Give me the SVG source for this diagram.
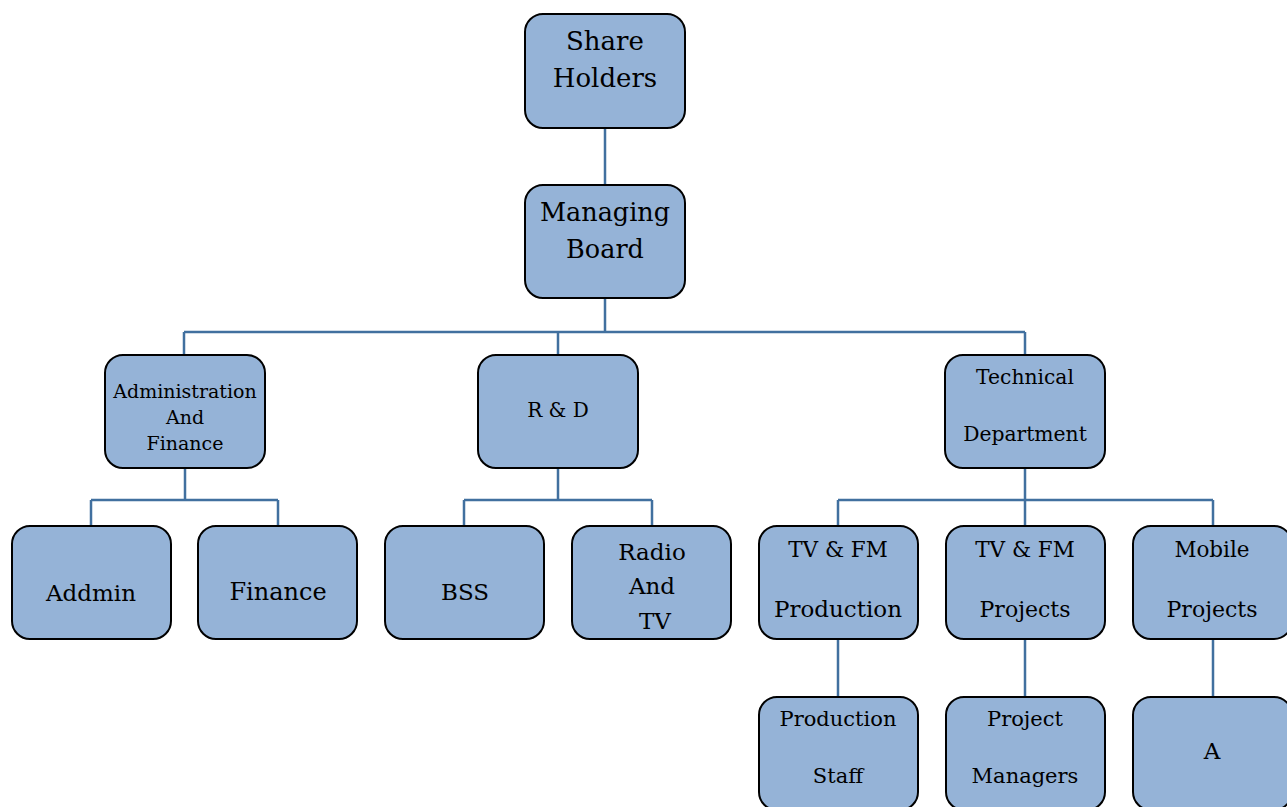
<svg xmlns="http://www.w3.org/2000/svg" width="1287" height="807" viewBox="0 0 1287 807">
<style>
.box{fill:#95b3d7;stroke:#000;stroke-width:2}
.t{font-family:"DejaVu Serif","Liberation Serif",serif;fill:#000;text-anchor:middle}
.c{fill:none;stroke:#41709f;stroke-width:2.5}
</style>
<rect width="1287" height="807" fill="#fff"/>
<g id="connectors">
<path class="c" d="M605 128V185M605 298V332M184 332H1025M184 332V355M558 332V355M1025 332V355"/>
<path class="c" d="M185 468V500M91 500H278M91 500V526M278 500V526"/>
<path class="c" d="M558 468V500M464 500H652M464 500V526M652 500V526"/>
<path class="c" d="M1025 468V500M838 500H1213M838 500V526M1025 500V526M1213 500V526"/>
<path class="c" d="M838 639V697M1025 639V697M1213 639V697"/>
</g>
<g id="share-holders"><rect class="box" x="525" y="14" width="160" height="114" rx="18"/><text class="t" x="605" y="50" font-size="26">Share</text><text class="t" x="605" y="87" font-size="26">Holders</text></g>
<g id="managing-board"><rect class="box" x="525" y="185" width="160" height="113" rx="18"/><text class="t" x="605" y="221" font-size="25.5">Managing</text><text class="t" x="605" y="258" font-size="25.5">Board</text></g>
<g id="admin-finance"><rect class="box" x="105" y="355" width="160" height="113" rx="18"/><text class="t" x="185" y="398" font-size="19">Administration</text><text class="t" x="185" y="424" font-size="19">And</text><text class="t" x="185" y="450" font-size="19">Finance</text></g>
<g id="rnd"><rect class="box" x="478" y="355" width="160" height="113" rx="18"/><text class="t" x="558" y="417" font-size="20">R &amp; D</text></g>
<g id="technical"><rect class="box" x="945" y="355" width="160" height="113" rx="18"/><text class="t" x="1025" y="384" font-size="20.3">Technical</text><text class="t" x="1025" y="441" font-size="20.3">Department</text></g>
<g id="addmin"><rect class="box" x="12" y="526" width="159" height="113" rx="18"/><text class="t" x="91" y="601" font-size="23">Addmin</text></g>
<g id="finance"><rect class="box" x="198" y="526" width="159" height="113" rx="18"/><text class="t" x="278" y="600" font-size="24">Finance</text></g>
<g id="bss"><rect class="box" x="385" y="526" width="159" height="113" rx="18"/><text class="t" x="465" y="600" font-size="23">BSS</text></g>
<g id="radio-tv"><rect class="box" x="572" y="526" width="159" height="113" rx="18"/><text class="t" x="652" y="560" font-size="23">Radio</text><text class="t" x="652" y="594" font-size="23">And</text><text class="t" x="655" y="629" font-size="23">TV</text></g>
<g id="tvfm-production"><rect class="box" x="759" y="526" width="159" height="113" rx="18"/><text class="t" x="838" y="557" font-size="21.5">TV &amp; FM</text><text class="t" x="838" y="617" font-size="23">Production</text></g>
<g id="tvfm-projects"><rect class="box" x="946" y="526" width="159" height="113" rx="18"/><text class="t" x="1025" y="557" font-size="21.5">TV &amp; FM</text><text class="t" x="1025" y="617" font-size="22">Projects</text></g>
<g id="mobile-projects"><rect class="box" x="1133" y="526" width="159" height="113" rx="18"/><text class="t" x="1212" y="557" font-size="21.5">Mobile</text><text class="t" x="1212" y="617" font-size="22">Projects</text></g>
<g id="production-staff"><rect class="box" x="759" y="697" width="159" height="113" rx="18"/><text class="t" x="838" y="726" font-size="21">Production</text><text class="t" x="838" y="783" font-size="21">Staff</text></g>
<g id="project-managers"><rect class="box" x="946" y="697" width="159" height="113" rx="18"/><text class="t" x="1025" y="726" font-size="21">Project</text><text class="t" x="1025" y="783" font-size="21">Managers</text></g>
<g id="a"><rect class="box" x="1133" y="697" width="159" height="113" rx="18"/><text class="t" x="1212" y="759" font-size="23">A</text></g>
</svg>
